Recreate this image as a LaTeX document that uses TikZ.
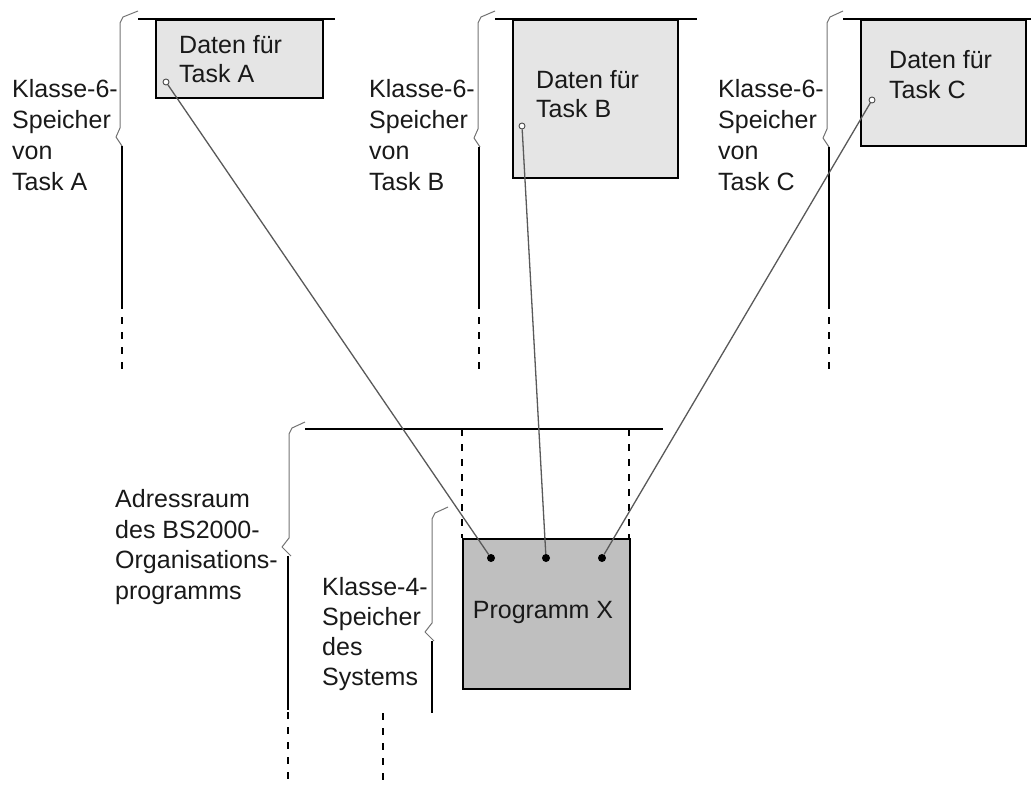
\documentclass[tikz,border=0pt]{standalone}
\usepackage{fontspec}
\setmainfont{Liberation Sans}
\newcommand\mybrace[5]{%
  \draw[bracestyle] (#1,#2) -- (#3+3,#2+6) -- (#3,#2+12) -- (#3,#5-9) -- (#4,#5) -- (#3+2,#5+9);}
\begin{document}
\begin{tikzpicture}[x=1pt,y=-1pt,
  lbl/.style={anchor=base west,inner sep=0pt,font=\fontsize{25}{29}\selectfont,text=black!90},
  databox/.style={draw=black,line width=1.8pt,fill=gray!20,anchor=north west,inner sep=0pt},
  progbox/.style={draw=black,line width=1.8pt,fill=gray!50,anchor=north west,inner sep=0pt},
  bracestyle/.style={draw=black!55,line width=1pt,line join=round},
  solidline/.style={draw=black,line width=1.8pt},
  dashline/.style={draw=black,line width=1.8pt,dash pattern=on 7pt off 8pt},
  conn/.style={draw=black!65,line width=1.3pt},
  opendot/.style={circle,draw=black!70,fill=white,line width=0.9pt,minimum size=6pt,inner sep=0pt},
  fulldot/.style={circle,fill=black,minimum size=8pt,inner sep=0pt}
]
\useasboundingbox (0,0) rectangle (1031,785);

% ---------- Task A ----------
\node[databox,minimum width=167pt,minimum height=78pt] (boxA) at (155,19) {};
\draw[solidline] (138,19) -- (335,19);
\mybrace{138}{11}{120}{116}{137}
\draw[solidline] (122,146) -- (122,302);
\draw[dashline] (122,302) -- (122,376);
\node[lbl] (dA1) at (179,53) {Daten für};
\node[lbl] (dA2) at (179,82) {Task A};
\node[lbl] (kA1) at (12,97) {Klasse-6-};
\node[lbl] (kA2) at (12,128) {Speicher};
\node[lbl] (kA3) at (12,159) {von};
\node[lbl] (kA4) at (12,190) {Task A};
\node[opendot] (cA) at (166,82) {};

% ---------- Task B ----------
\node[databox,minimum width=165pt,minimum height=158pt] (boxB) at (512,19) {};
\draw[solidline] (495,19) -- (697,19);
\mybrace{495}{11}{478}{474}{138}
\draw[solidline] (479,147) -- (479,302);
\draw[dashline] (479,302) -- (479,376);
\node[lbl] (dB1) at (536,88) {Daten für};
\node[lbl] (dB2) at (536,117) {Task B};
\node[lbl] (kB1) at (369,97) {Klasse-6-};
\node[lbl] (kB2) at (369,128) {Speicher};
\node[lbl] (kB3) at (369,159) {von};
\node[lbl] (kB4) at (369,190) {Task B};
\node[opendot] (cB) at (522,126) {};

% ---------- Task C ----------
\node[databox,minimum width=165pt,minimum height=126pt] (boxC) at (860,19) {};
\draw[solidline] (843,19) -- (1031,19);
\mybrace{843}{11}{827}{823}{138}
\draw[solidline] (829,147) -- (829,302);
\draw[dashline] (829,302) -- (829,376);
\node[lbl] (dC1) at (889,68) {Daten für};
\node[lbl] (dC2) at (889,98) {Task C};
\node[lbl] (kC1) at (718,97) {Klasse-6-};
\node[lbl] (kC2) at (718,128) {Speicher};
\node[lbl] (kC3) at (718,159) {von};
\node[lbl] (kC4) at (718,190) {Task C};
\node[opendot] (cC) at (872,100) {};

% ---------- Adressraum ----------
\draw[solidline] (305,429) -- (663,429);
\mybrace{305}{422}{289}{282}{547}
\draw[solidline] (288,556) -- (288,710);
\draw[dashline] (288,712) -- (288,786);
\node[lbl] (ad1) at (115,507) {Adressraum};
\node[lbl] (ad2) at (115,538) {des BS2000-};
\node[lbl] (ad3) at (115,568) {Organisations-};
\node[lbl] (ad4) at (115,599) {programms};

\draw[dashline] (462,429) -- (462,538);
\draw[dashline] (629,429) -- (629,538);

% ---------- Klasse 4 ----------
\mybrace{448}{507}{432}{425}{632}
\draw[solidline] (432,641) -- (432,713);
\draw[dashline] (383,713) -- (383,786);
\node[lbl] (k41) at (322,595) {Klasse-4-};
\node[lbl] (k42) at (322,625) {Speicher};
\node[lbl] (k43) at (322,655) {des};
\node[lbl] (k44) at (322,685) {Systems};

% ---------- Programm X ----------
\node[progbox,minimum width=167pt,minimum height=150pt] (prog) at (462,538) {};
\node[lbl,anchor=base] (progt) at (543,618) {Programm X};
\node[fulldot] (x1) at (491,558) {};
\node[fulldot] (x2) at (546,558) {};
\node[fulldot] (x3) at (602,558) {};

% ---------- connectors ----------
\draw[conn] (cA) -- (x1);
\draw[conn] (cB) -- (x2);
\draw[conn] (cC) -- (x3);
\end{tikzpicture}
\end{document}
